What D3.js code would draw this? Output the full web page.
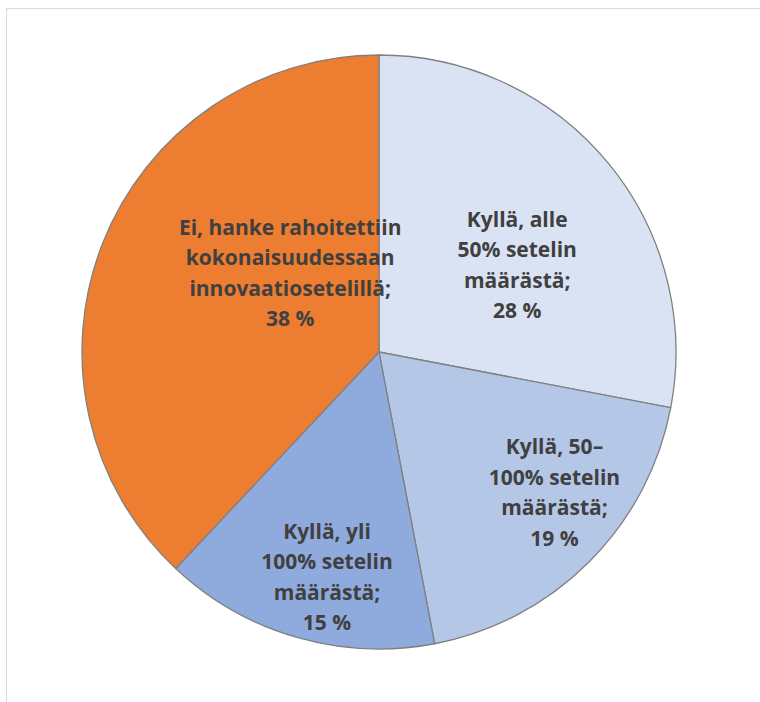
<!DOCTYPE html>
<html><head><meta charset="utf-8">
<script src="https://cdn.jsdelivr.net/npm/d3@7"></script>
<style>html,body{margin:0;padding:0;background:#fff;}</style>
</head><body>
<svg id="c" width="760" height="702"></svg>
<script>
const categories = [
  ["Kyllä, alle", "50% setelin", "määrästä;"],
  ["Kyllä, 50–", "100% setelin", "määrästä;"],
  ["Kyllä, yli", "100% setelin", "määrästä;"],
  ["Ei, hanke rahoitettiin", "kokonaisuudessaan", "innovaatiosetelillä;"]
];
const values = [28, 19, 15, 38];
const valueLabels = ["28 %", "19 %", "15 %", "38 %"];
const colors = ["#dae3f3", "#b4c7e7", "#8faadc", "#ed7d31"];

// label placement (polar, relative to pie centre): angle in degrees, radius fraction
const labelPlace = [[57.8, 0.55], [128.7, 0.757], [193, 0.778], [311.6, 0.40]];

const svg = d3.select("#c");
svg.append("rect").attr("x", 6.5).attr("y", 8.5).attr("width", 800).attr("height", 800)
  .attr("fill", "#fff").attr("stroke", "#d9d9d9").attr("stroke-width", 1);

const cx = 379, cy = 352, r = 297;
const g = svg.append("g").attr("transform", `translate(${cx},${cy})`);
const pie = d3.pie().sort(null).value(d => d)(values);
const arc = d3.arc().innerRadius(0).outerRadius(r);

g.selectAll("path.s").data(pie).enter().append("path")
  .attr("d", arc).attr("fill", (d, i) => colors[i])
  .attr("stroke", "#808080").attr("stroke-width", 1.3);

pie.forEach((d, i) => {
  const a = labelPlace[i][0] * Math.PI / 180, rr = labelPlace[i][1] * r;
  const x = Math.sin(a) * rr, y = -Math.cos(a) * rr;
  const lines = categories[i].concat([valueLabels[i]]);
  const lh = 30.5;
  const t = g.append("text").attr("text-anchor", "middle")
    .attr("font-family", "'Open Sans', Lato, sans-serif").attr("font-weight", "bold")
    .attr("font-size", 21).attr("fill", "#404040");
  lines.forEach((l, j) => {
    t.append("tspan").attr("x", x).attr("y", y + (j - (lines.length - 1) / 2) * lh + 7.5).text(l);
  });
});
</script>
</body></html>
